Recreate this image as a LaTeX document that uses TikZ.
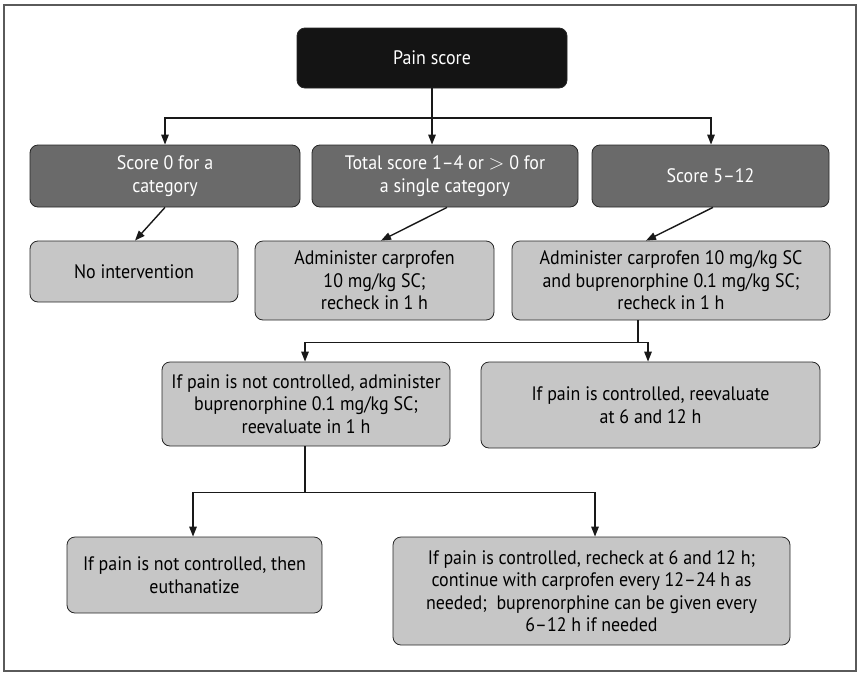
\documentclass[tikz,border=0pt]{standalone}
\usepackage{fontspec}
\setmainfont[FakeStretch=0.92]{PT Sans}
\usetikzlibrary{arrows.meta,calc}
\definecolor{darkbox}{HTML}{6A6A6A}
\definecolor{lightbox}{HTML}{C6C6C6}
\definecolor{framec}{HTML}{5A5A5A}
\tikzset{
  box/.style={draw=black!85, line width=0.8pt, rounded corners=8pt, align=center, font=\fontsize{19.5}{22.5}\selectfont, inner sep=2pt},
  topbox/.style={box, fill=black!92, text=white},
  midbox/.style={box, fill=darkbox, text=white},
  lowbox/.style={box, fill=lightbox, text=black},
  conn/.style={line width=1.4pt, black!90},
  arr/.style={conn, -{Triangle[length=10pt,width=7.5pt]}}
}
\begin{document}
\begin{tikzpicture}[x=1pt,y=-1pt]
\useasboundingbox (0,0) rectangle (862,678);
\draw[framec, line width=1.8pt] (4,5) rectangle (856,671);

\node[topbox, minimum width=270pt, minimum height=60pt] (pain) at (432,58) {Pain score};

\node[midbox, minimum width=270pt, minimum height=62pt] (s0) at (165,176) {Score 0 for a\\category};
\node[midbox, minimum width=266pt, minimum height=62pt] (s14) at (445,176) {Total score 1--4 or $>$ 0 for\\a single category};
\node[midbox, minimum width=237pt, minimum height=62pt] (s512) at (710.5,176) {Score 5--12};

\node[lowbox, minimum width=208pt, minimum height=61pt] (noint) at (134,271.5) {No intervention};
\node[lowbox, minimum width=239pt, minimum height=79pt] (carp) at (374.5,280.5) {Administer carprofen\\10 mg/kg SC;\\recheck in 1 h};
\node[lowbox, minimum width=318pt, minimum height=79pt] (carpbup) at (671,280.5) {Administer carprofen 10 mg/kg SC\\and buprenorphine 0.1 mg/kg SC;\\recheck in 1 h};

\node[lowbox, minimum width=288pt, minimum height=84pt] (notctl) at (306,404) {If pain is not controlled, administer\\buprenorphine 0.1 mg/kg SC;\\reevaluate in 1 h};
\node[lowbox, minimum width=339pt, minimum height=86pt] (ctl) at (650.5,405) {If pain is controlled, reevaluate\\at 6 and 12 h};

\node[lowbox, minimum width=255pt, minimum height=76pt] (euth) at (194.5,575) {If pain is not controlled, then\\euthanatize};
\node[lowbox, minimum width=397pt, minimum height=108pt] (final) at (591.5,591) {If pain is controlled, recheck at 6 and 12 h;\\continue with carprofen every 12--24 h as\\needed;\ \ buprenorphine can be given every\\6--12 h if needed};

% connectors from pain score
\coordinate (j1) at (432,118);
\draw[arr] (pain.south) -- (pain.south |- s14.north);
\draw[arr] (j1) -| (s0.north);
\draw[arr] (j1) -| ([xshift=0.5pt]s512.north);

% diagonal arrows
\draw[arr] (s0.south) -- ([xshift=1pt]noint.north);
\draw[arr] ([xshift=2pt]s14.south) -- ([xshift=6.5pt]carp.north);
\draw[arr] ([xshift=2.5pt]s512.south) -- ([xshift=-25pt]carpbup.north);

% from carpbup
\coordinate (c2) at ([xshift=-33pt]carpbup.south);
\coordinate (j2) at ($(c2)+(0,22)$);
\draw[conn] (c2) -- (j2);
\draw[arr] (j2) -| ([xshift=-1pt]notctl.north);
\draw[arr] (j2) -| ([xshift=-2.5pt]ctl.north);

% from notctl
\coordinate (c3) at ([xshift=-1pt]notctl.south);
\coordinate (j3) at ($(c3)+(0,46)$);
\draw[conn] (c3) -- (j3);
\draw[arr] (j3) -| ([xshift=-1.5pt]euth.north);
\draw[arr] (j3) -| ([xshift=3.5pt]final.north);
\end{tikzpicture}
\end{document}
